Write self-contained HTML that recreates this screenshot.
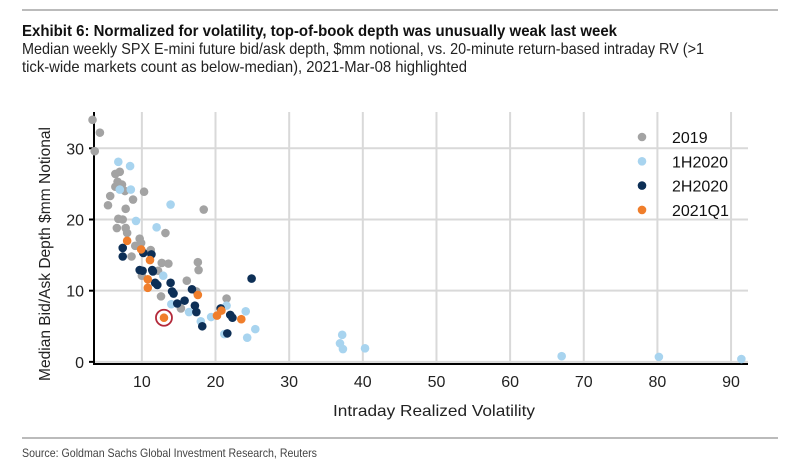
<!DOCTYPE html>
<html><head><meta charset="utf-8"><style>
html,body{margin:0;padding:0;background:#fff;}
svg{display:block;font-family:"Liberation Sans",sans-serif;}
</style></head><body>
<svg id="chart" width="789" height="471" viewBox="0 0 789 471">
<line x1="22" y1="10" x2="778" y2="10" stroke="#777" stroke-width="1"/>
<text x="22" y="36" font-size="16" font-weight="bold" fill="#111" textLength="595" lengthAdjust="spacingAndGlyphs">Exhibit 6: Normalized for volatility, top-of-book depth was unusually weak last week</text>
<text x="22" y="54" font-size="16" fill="#222" textLength="682" lengthAdjust="spacingAndGlyphs">Median weekly SPX E-mini future bid/ask depth, $mm notional, vs. 20-minute return-based intraday RV (&gt;1</text>
<text x="22" y="72" font-size="16" fill="#222" textLength="445" lengthAdjust="spacingAndGlyphs">tick-wide markets count as below-median), 2021-Mar-08 highlighted</text>
<g id="grid"></g>
<g id="axes"></g>
<g id="points"></g>
<g id="legend"></g>
<text x="434" y="416" font-size="16" fill="#222" text-anchor="middle" textLength="202" lengthAdjust="spacingAndGlyphs">Intraday Realized Volatility</text>
<text transform="translate(50,254) rotate(-90)" font-size="16" fill="#222" text-anchor="middle" textLength="254" lengthAdjust="spacingAndGlyphs">Median Bid/Ask Depth $mm Notional</text>
<line x1="22" y1="438" x2="778" y2="438" stroke="#777" stroke-width="1"/>
<text x="22" y="457" font-size="12" fill="#444" textLength="295" lengthAdjust="spacingAndGlyphs">Source: Goldman Sachs Global Investment Research, Reuters</text>
</svg>
<script>
const xTicks=[10,20,30,40,50,60,70,80,90];
const yTicks=[0,10,20,30];
const seriesNames=["2019","1H2020","2H2020","2021Q1"];
const seriesColors=["#a3a3a3","#a8d4ef","#0d2f56","#f07e2b"];
const x2019=[3.3,4.3,3.6,6.4,7.0,6.7,7.3,6.4,7.7,10.3,5.7,8.8,5.4,7.8,18.4,6.8,7.4,6.6,7.8,8.0,13.2,9.7,9.9,9.1,11.2,8.6,12.7,13.6,17.6,17.7,10.0,12.2,16.1,12.6,21.5,15.3,17.4];
const y2019=[34.0,32.2,29.6,26.4,26.7,25.3,24.9,24.6,24.0,23.9,23.3,22.8,22.0,21.5,21.4,20.1,20.0,18.8,18.8,18.1,18.1,17.3,16.7,16.3,15.7,14.8,13.9,13.8,14.0,12.9,12.1,12.8,11.4,9.2,8.9,7.5,9.9];
const x1H2020=[6.8,8.4,7.0,8.5,13.9,9.2,12.0,12.9,14.0,16.4,18.0,19.4,21.5,24.1,25.4,24.3,21.2,37.2,36.9,37.3,40.3,67.0,80.2,91.4];
const y1H2020=[28.1,27.5,24.2,24.2,22.1,19.8,18.9,12.1,8.1,7.0,5.7,6.3,7.9,7.1,4.6,3.4,3.9,3.8,2.6,1.8,1.9,0.8,0.7,0.4];
const x2H2020=[7.4,7.4,10.2,11.3,9.7,10.1,11.4,11.5,11.8,12.1,13.9,14.3,14.1,14.8,15.8,16.8,17.2,17.4,18.2,20.7,22.0,22.3,21.6,24.9];
const y2H2020=[16.0,14.8,15.3,15.1,12.9,12.8,12.9,12.7,11.1,10.8,11.1,9.6,9.9,8.2,8.6,10.2,7.9,7.0,5.0,7.5,6.6,6.2,4.0,11.7];
const x2021Q1=[8.0,9.9,11.1,10.8,10.8,17.6,20.2,20.8,23.5,13.0];
const y2021Q1=[17.0,15.8,14.3,11.6,10.4,9.4,6.5,7.2,6.0,6.2];
const highlightX=[13.0];
const highlightY=[6.2];
const xMin=3.5,xMax=92.3,yMin=-0.3,yMax=35.1;
const L=94,R=748,T=112,B=364;
const xs=v=>L+(v-xMin)/(xMax-xMin)*(R-L);
const ys=v=>B-(v-yMin)/(yMax-yMin)*(B-T);
const NS="http://www.w3.org/2000/svg";
function mk(tag,attrs,parent){const e=document.createElementNS(NS,tag);for(const k in attrs)e.setAttribute(k,attrs[k]);parent.appendChild(e);return e;}
const grid=document.getElementById('grid'),axes=document.getElementById('axes'),pts=document.getElementById('points'),leg=document.getElementById('legend');
xTicks.forEach(t=>{
  const g=mk('line',{x1:xs(t),x2:xs(t),y1:T,y2:B,stroke:'#d9d9d9','stroke-width':2},grid);
  
  
  const lb=mk('text',{x:xs(t),y:B+23,'font-size':16,fill:'#222','text-anchor':'middle'},axes);
  lb.textContent=t;
  
  
});
yTicks.forEach(t=>{
  const g=mk('line',{x1:L,x2:R,y1:ys(t),y2:ys(t),stroke:'#d9d9d9','stroke-width':2},grid);
  
  
  const tk=mk('line',{x1:L-5,x2:L,y1:ys(t),y2:ys(t),stroke:'#000','stroke-width':2},axes);
  
  
  const lb=mk('text',{x:L-10,y:ys(t)+6,'font-size':16,fill:'#222','text-anchor':'end'},axes);
  lb.textContent=t;
  
  
});
const ya=mk('line',{x1:L,x2:L,y1:T,y2:B+1,stroke:'#000','stroke-width':2},axes);


const xa=mk('line',{x1:L-1,x2:R,y1:B,y2:B,stroke:'#000','stroke-width':2},axes);


const allX=[x2019,x1H2020,x2H2020,x2021Q1],allY=[y2019,y1H2020,y2H2020,y2021Q1];
allX.forEach((xa2,s)=>{
  xa2.forEach((v,i)=>{
    const c=mk('circle',{cx:xs(v),cy:ys(allY[s][i]),r:4.3,fill:seriesColors[s]},pts);
    
    
  });
});
highlightX.forEach((v,i)=>{
  const c=mk('circle',{cx:xs(v),cy:ys(highlightY[i]),r:8,fill:'none',stroke:'#b3293a','stroke-width':1.8},pts);
  
  
});
seriesNames.forEach((n,i)=>{
  const y=137+i*24.3;
  const m=mk('circle',{cx:642,cy:y,r:4.3,fill:seriesColors[i]},leg);
  
  
  const t=mk('text',{x:672,y:y+6,'font-size':16,fill:'#111'},leg);
  t.textContent=n;
  
  
});
</script>
</body></html>
